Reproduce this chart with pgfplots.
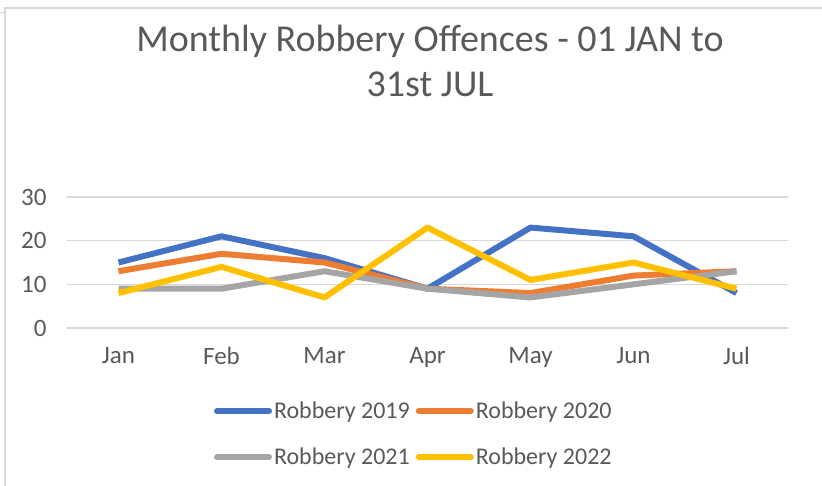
\documentclass[border=0pt]{standalone}
\usepackage{pgfplots}
\pgfplotsset{compat=1.18}
\usepackage{fontspec}
\setmainfont{Carlito}

\definecolor{c19}{HTML}{4472C4}
\definecolor{c20}{HTML}{ED7D31}
\definecolor{c21}{HTML}{A5A5A5}
\definecolor{c22}{HTML}{FFC000}
\definecolor{gridc}{HTML}{D9D9D9}
\definecolor{txt}{HTML}{595959}

\begin{document}
\begin{tikzpicture}[x=1pt,y=1pt]
\path[use as bounding box] (0,0) rectangle (822,-486);
% chart frame (cropped)
\draw[gridc, line width=1.2pt] (5,-486) -- (5,-8) -- (822,-8);
\draw[gridc, line width=1pt] (0,-13) -- (5,-13);

\begin{axis}[
    at={(67pt,-328pt)}, anchor=south west,
    scale only axis,
    width=721pt, height=131pt,
    xmin=-0.5, xmax=6.5,
    ymin=0, ymax=30,
    xtick={0,1,2,3,4,5,6},
    xticklabels={Jan,Feb,Mar,Apr,May,Jun,Jul},
    ytick={0,10,20,30},
    axis line style={draw=none},
    major tick length=0pt,
    ymajorgrids,
    grid style={gridc, line width=1.3pt},
    tick label style={font=\fontsize{25}{29}\selectfont, text=txt},
    /pgf/number format/assume math mode=true,
    xticklabel style={yshift=-16pt},
    yticklabel style={xshift=-17pt},
    clip=false,
    legend columns=2,
    legend style={at={(0.481,-0.81)}, anchor=center, draw=none, fill=none,
        font=\fontsize{24}{28}\selectfont, text=txt,
        /tikz/every even column/.append style={column sep=4pt},
        row sep=24pt, inner sep=0pt},
    legend image code/.code={\draw[#1, line width=6pt, line cap=round] (0pt,0pt) -- (52pt,0pt);},
]
\addplot[c19, line width=6pt, line join=round] coordinates {(0,15) (1,21) (2,16) (3,9) (4,23) (5,21) (6,8)};
\addplot[c20, line width=6pt, line join=round] coordinates {(0,13) (1,17) (2,15) (3,9) (4,8) (5,12) (6,13)};
\addplot[c21, line width=6pt, line join=round] coordinates {(0,9) (1,9) (2,13) (3,9) (4,7) (5,10) (6,13)};
\addplot[c22, line width=6pt, line join=round] coordinates {(0,8) (1,14) (2,7) (3,23) (4,11) (5,15) (6,9)};
\legend{Robbery 2019, Robbery 2020, Robbery 2021, Robbery 2022}
\end{axis}

\node[text=txt, font=\fontsize{38}{45}\selectfont, align=center] at (430,-61)
  {Monthly Robbery Offences - 01 JAN to\\31st JUL};
\end{tikzpicture}
\end{document}
